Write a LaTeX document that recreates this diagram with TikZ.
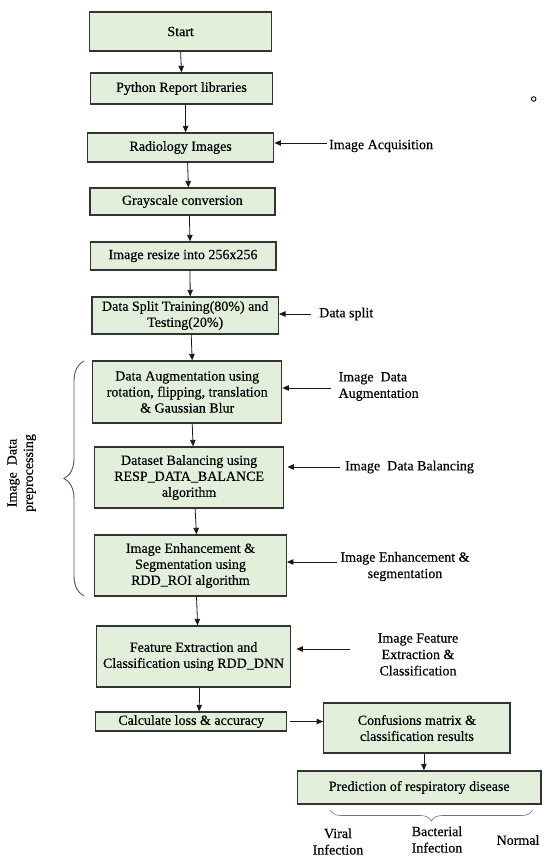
\documentclass[tikz,border=0pt]{standalone}
\usepackage{fontspec}
\setmainfont{Liberation Serif}[FakeBold=0.4]
\usetikzlibrary{arrows.meta,decorations.pathreplacing}
\definecolor{boxfill}{HTML}{E2EFDA}
\definecolor{boxdraw}{HTML}{333333}
\definecolor{bracecol}{HTML}{555555}
\begin{document}
\begin{tikzpicture}[x=1pt,y=-1pt,
  box/.style={draw=boxdraw,fill=boxfill,line width=1.3pt,inner sep=0pt,align=center,font=\fontsize{14}{16}\selectfont},
  arr/.style={-{Triangle[length=6.5pt,width=5.5pt]},line width=0.8pt,draw=black!90},
  lbl/.style={font=\fontsize{14}{16.4}\selectfont,inner sep=0pt,text=black},
  brc/.style={decorate,draw=bracecol,line width=0.9pt}]
\useasboundingbox[fill=white] (0,0) rectangle (544,858);

% main column
\node[box,minimum width=182pt,minimum height=39pt] (start) at (180.6,31.5) {Start};
\node[box,minimum width=182.5pt,minimum height=31pt] (python) at (181.5,88.5) {Python Report libraries};
\node[box,minimum width=186.4pt,minimum height=29pt] (radio) at (180.6,147.5) {Radiology Images};
\node[box,minimum width=185pt,minimum height=27pt] (gray) at (182.4,201.5) {Grayscale conversion};
\node[box,minimum width=185.7pt,minimum height=28pt] (resize) at (183,256) {Image resize into 256x256};
\node[box,minimum width=186.3pt,minimum height=37pt] (split) at (185.2,315.5) {Data Split Training(80\%) and\\Testing(20\%)};
\node[box,minimum width=189pt,minimum height=62pt] (aug) at (187.2,392) {Data Augmentation using\\rotation, flipping, translation\\\& Gaussian Blur};
\node[box,minimum width=189.4pt,minimum height=61pt] (bal) at (189.1,477.5) {Dataset Balancing using\\RESP\_DATA\_BALANCE\\algorithm};
\node[box,minimum width=191.6pt,minimum height=61pt] (enh) at (190.5,565.5) {Image Enhancement \&\\Segmentation using\\RDD\_ROI algorithm};
\node[box,minimum width=194.3pt,minimum height=61pt] (feat) at (193.6,656.5) {Feature Extraction and\\Classification using RDD\_DNN};
\node[box,minimum width=190.8pt,minimum height=19pt] (calc) at (191.2,721.5) {Calculate loss \& accuracy};
\node[box,minimum width=186.3pt,minimum height=50pt] (conf) at (416.9,728) {Confusions matrix \&\\classification results};
\node[box,minimum width=243.6pt,minimum height=33pt] (pred) at (419.2,787.5) {Prediction of respiratory disease};

% vertical connectors
\draw[arr] (start.south) -- (python.north);
\draw[arr] ([xshift=4pt]python.south) -- ([xshift=5pt]radio.north);
\draw[arr] ([xshift=7pt]radio.south) -- ([xshift=6pt]gray.north);
\draw[arr] ([xshift=7pt]gray.south) -- ([xshift=7pt]resize.north);
\draw[arr] ([xshift=7pt]resize.south) -- ([xshift=5pt]split.north);
\draw[arr] ([xshift=6pt]split.south) -- ([xshift=5pt]aug.north);
\draw[arr] ([xshift=5pt]aug.south) -- ([xshift=4pt]bal.north);
\draw[arr] ([xshift=6pt]bal.south) -- ([xshift=6pt]enh.north);
\draw[arr] ([xshift=6pt]enh.south) -- ([xshift=4pt]feat.north);
\draw[arr] ([xshift=6pt]feat.south) -- ([xshift=8pt]calc.north);
\draw[arr,shorten <=3pt] (calc.east) -- (calc.east -| conf.west);
\draw[arr] ([xshift=7pt]conf.south) -- ([xshift=7pt]conf.south |- pred.north);

% side labels
\node[lbl,anchor=west] (acqL) at (329,146) {Image Acquisition};
\coordinate (acqS) at (326.9,143);
\draw[arr] (acqS) -- (acqS -| radio.east);

\node[lbl,anchor=west] (splitL) at (319,314) {Data split};
\coordinate (splitS) at (310.5,314);
\draw[arr] (splitS) -- (splitS -| split.east);

\node[lbl,anchor=west,align=left] (augL) at (338.4,386.5) {Image\ \ Data\\Augmentation};
\coordinate (augS) at (331.4,388);
\draw[arr] (augS) -- (augS -| aug.east);

\node[lbl,anchor=west] (balL) at (345,467) {Image\ \ Data Balancing};
\coordinate (balS) at (340,467);
\draw[arr] (balS) -- ([xshift=3pt]balS -| bal.east);

\node[lbl,align=center] (enhL) at (405,566.5) {Image Enhancement \&\\segmentation};
\coordinate (enhS) at (337,562);
\draw[arr] (enhS) -- (enhS -| enh.east);

\node[lbl,align=center] (featL) at (418,654.5) {Image Feature\\Extraction \&\\Classification};
\coordinate (featS) at (350,649);
\draw[arr] (featS) -- ([xshift=5pt]featS -| feat.east);

% left brace and label
\draw[brc,decoration={brace,amplitude=20pt}] (84,596) -- (84,361);
\node[lbl,rotate=90,align=center] (preL) at (21.7,473) {Image\ \ Data\\preprocessing};

% bottom brace and outcome labels
\draw[brc,decoration={brace,amplitude=11pt},line width=0.6pt,draw=black!55] (532.6,810) -- (330,810);
\node[lbl,align=center] (viral) at (338,841.5) {Viral\\Infection};
\node[lbl,align=center] (bact) at (437,839.5) {Bacterial\\Infection};
\node[lbl] (normal) at (518,840) {Normal};

% small stray circle
\draw[line width=0.9pt] (533.7,99) circle (2.3);
\end{tikzpicture}
\end{document}
